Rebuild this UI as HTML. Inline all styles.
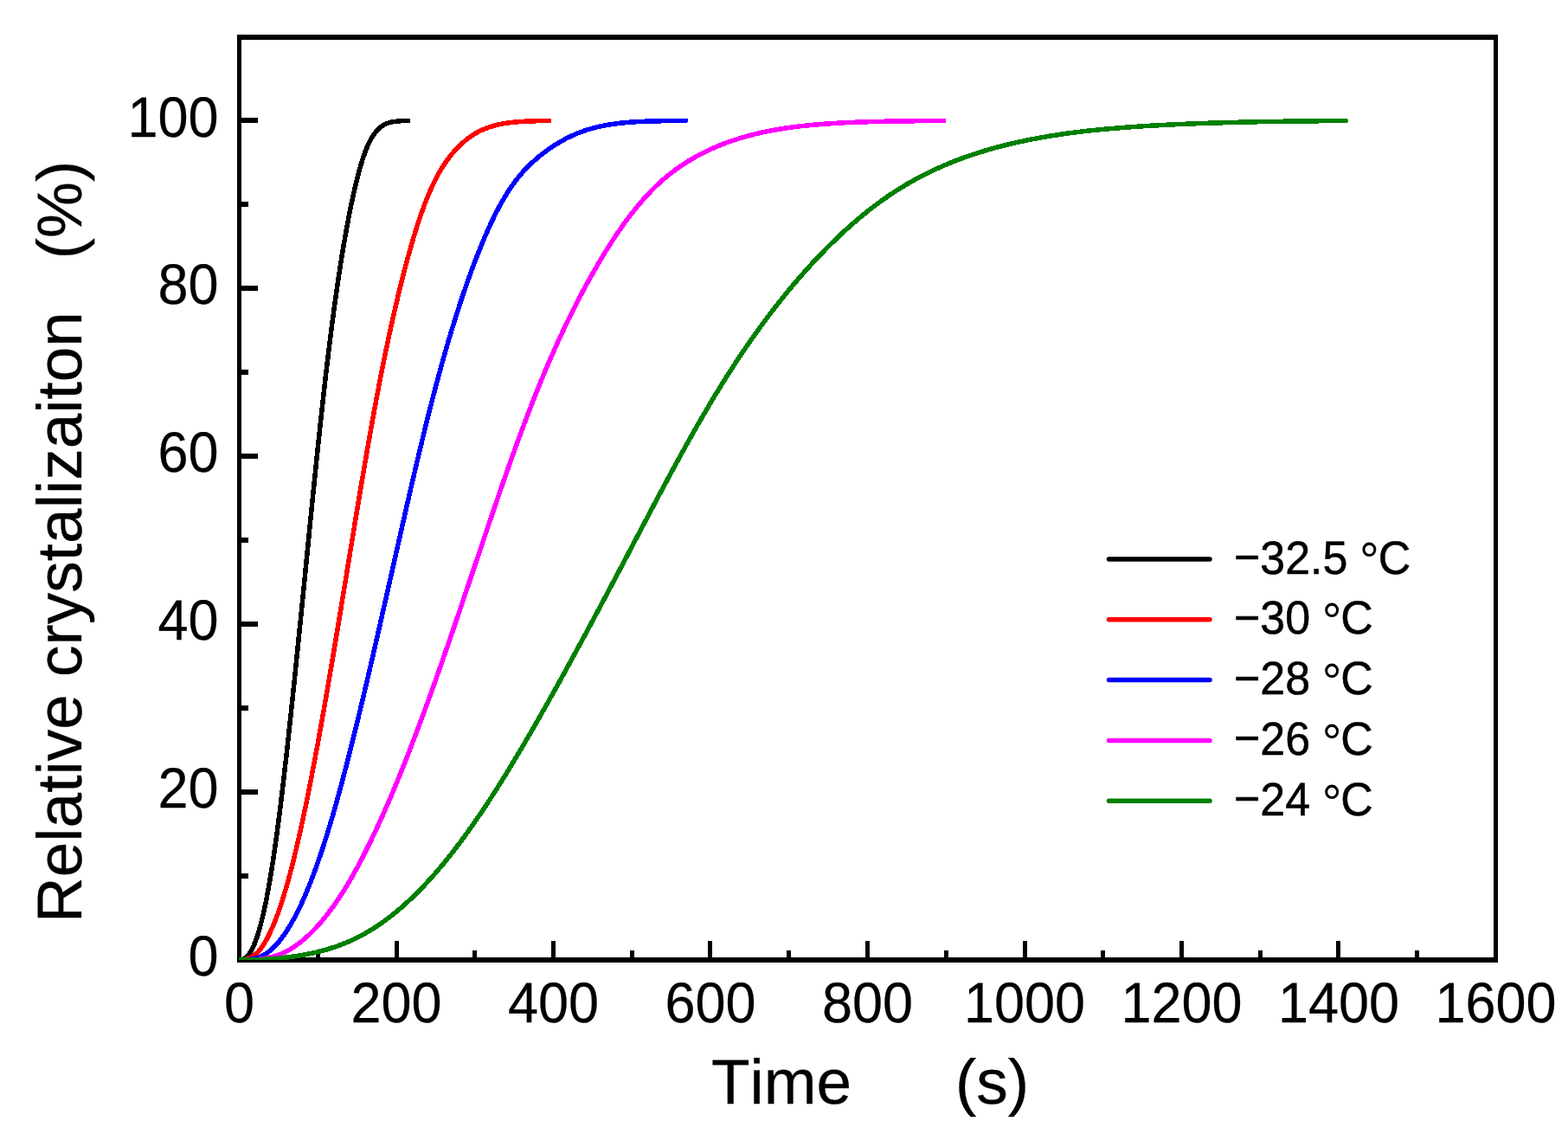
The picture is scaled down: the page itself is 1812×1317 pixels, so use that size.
<!DOCTYPE html>
<html><head><meta charset="utf-8"><title>Relative crystallization vs time</title>
<style>
html,body{margin:0;padding:0;background:#fff;}
body{width:1812px;height:1317px;overflow:hidden;}
svg{display:block;}
text{font-family:"Liberation Sans",sans-serif;fill:#000;white-space:pre;font-kerning:none;font-variant-ligatures:none;text-rendering:geometricPrecision;}
</style></head><body>
<svg width="1812" height="1317" viewBox="0 0 1812 1317">
<rect x="0" y="0" width="1812" height="1317" fill="#ffffff"/>

<g shape-rendering="crispEdges" fill="#000">
<rect x="274" y="40" width="5" height="1072"/>
<rect x="1726" y="40" width="5" height="1072"/>
<rect x="274" y="40" width="1457" height="6"/>
<rect x="274" y="1106" width="1457" height="6"/>
<rect x="365" y="1098" width="5" height="8"/>
<rect x="456" y="1087" width="5" height="19"/>
<rect x="546" y="1098" width="5" height="8"/>
<rect x="637" y="1087" width="5" height="19"/>
<rect x="728" y="1098" width="5" height="8"/>
<rect x="818" y="1087" width="5" height="19"/>
<rect x="909" y="1098" width="5" height="8"/>
<rect x="1000" y="1087" width="5" height="19"/>
<rect x="1091" y="1098" width="5" height="8"/>
<rect x="1182" y="1087" width="5" height="19"/>
<rect x="1272" y="1098" width="5" height="8"/>
<rect x="1363" y="1087" width="5" height="19"/>
<rect x="1454" y="1098" width="5" height="8"/>
<rect x="1544" y="1087" width="5" height="19"/>
<rect x="1635" y="1098" width="5" height="8"/>
<rect x="279" y="1009" width="8" height="6"/>
<rect x="279" y="912" width="19" height="6"/>
<rect x="279" y="815" width="8" height="6"/>
<rect x="279" y="718" width="19" height="6"/>
<rect x="279" y="621" width="8" height="6"/>
<rect x="279" y="524" width="19" height="6"/>
<rect x="279" y="427" width="8" height="6"/>
<rect x="279" y="330" width="19" height="6"/>
<rect x="279" y="233" width="8" height="6"/>
<rect x="279" y="136" width="19" height="6"/>
</g>
<defs><clipPath id="pc"><rect x="276" y="43" width="1453" height="1066"/></clipPath></defs>
<g fill="none" stroke-width="5.5" stroke-linecap="round" stroke-linejoin="round" clip-path="url(#pc)" shape-rendering="crispEdges">
<path stroke="#000000" d="M276.50,1109.00C285.00,1108.95 290.07,1099.94 293.39,1092.12C296.71,1084.29 299.15,1076.12 301.33,1067.90C303.50,1059.69 305.36,1051.39 307.05,1043.06C308.75,1034.73 310.27,1026.37 311.70,1017.99C313.14,1009.61 314.47,1001.21 315.73,992.81C317.00,984.40 318.20,975.99 319.36,967.57C320.51,959.14 321.62,950.72 322.70,942.28C323.78,933.85 324.82,925.42 325.83,916.98C326.85,908.54 327.84,900.10 328.81,891.65C329.79,883.21 330.74,874.76 331.67,866.31C332.61,857.86 333.53,849.41 334.44,840.96C335.36,832.51 336.25,824.06 337.15,815.61C338.04,807.15 338.92,798.70 339.80,790.24C340.67,781.79 341.54,773.33 342.41,764.88C343.27,756.42 344.13,747.96 344.98,739.51C345.84,731.05 346.69,722.59 347.53,714.13C348.38,705.68 349.22,697.22 350.06,688.76C350.91,680.30 351.75,671.84 352.59,663.38C353.43,654.93 354.27,646.47 355.11,638.01C355.94,629.55 356.78,621.09 357.63,612.63C358.47,604.17 359.31,595.72 360.16,587.26C361.01,578.80 361.86,570.34 362.72,561.89C363.57,553.43 364.44,544.97 365.31,536.52C366.18,528.06 367.06,519.61 367.95,511.15C368.84,502.70 369.74,494.25 370.65,485.80C371.56,477.35 372.49,468.90 373.43,460.45C374.37,452.00 375.33,443.56 376.31,435.11C377.29,426.67 378.28,418.23 379.31,409.79C380.33,401.35 381.38,392.91 382.45,384.48C383.52,376.05 384.62,367.62 385.76,359.20C386.89,350.77 388.06,342.35 389.27,333.94C390.48,325.53 391.73,317.12 393.03,308.72C394.32,300.32 395.68,291.92 397.09,283.54C398.51,275.16 400.00,266.79 401.56,258.44C403.13,250.08 404.78,241.74 406.54,233.43C408.30,225.11 410.17,216.82 412.21,208.57C414.26,200.32 416.47,192.10 419.08,184.02C421.70,175.93 424.68,167.91 428.82,160.49C432.96,153.07 438.65,146.08 446.48,142.78C454.32,139.48 463.11,139.60 471.61,139.50"/>
<path stroke="#ff0000" d="M276.50,1109.00C284.85,1108.99 293.08,1105.65 298.61,1099.39C304.13,1093.13 308.14,1085.68 311.75,1078.15C315.37,1070.61 318.46,1062.84 321.28,1054.98C324.11,1047.12 326.66,1039.16 329.05,1031.16C331.44,1023.15 333.66,1015.10 335.78,1007.02C337.89,998.94 339.90,990.83 341.83,982.70C343.77,974.58 345.62,966.43 347.43,958.28C349.23,950.12 350.97,941.95 352.68,933.77C354.38,925.59 356.04,917.41 357.66,909.21C359.29,901.02 360.88,892.82 362.44,884.61C364.00,876.41 365.53,868.20 367.04,859.98C368.55,851.77 370.04,843.55 371.51,835.32C372.98,827.10 374.43,818.87 375.86,810.64C377.30,802.42 378.72,794.18 380.13,785.95C381.53,777.72 382.93,769.48 384.32,761.24C385.70,753.01 387.08,744.77 388.45,736.53C389.82,728.29 391.19,720.05 392.55,711.80C393.90,703.56 395.26,695.32 396.61,687.08C397.96,678.83 399.31,670.59 400.66,662.35C402.01,654.10 403.35,645.86 404.70,637.62C406.05,629.37 407.40,621.13 408.76,612.89C410.11,604.64 411.47,596.40 412.84,588.16C414.20,579.92 415.57,571.68 416.96,563.44C418.34,555.20 419.73,546.97 421.14,538.73C422.55,530.50 423.97,522.27 425.41,514.04C426.84,505.81 428.30,497.59 429.78,489.37C431.26,481.14 432.76,472.93 434.28,464.71C435.81,456.50 437.36,448.29 438.95,440.09C440.54,431.89 442.16,423.70 443.82,415.51C445.48,407.32 447.18,399.15 448.92,390.98C450.66,382.81 452.45,374.65 454.28,366.50C456.12,358.35 458.01,350.21 459.95,342.09C461.90,333.96 463.90,325.85 465.98,317.76C468.05,309.67 470.20,301.60 472.43,293.55C474.67,285.50 476.98,277.48 479.43,269.49C481.88,261.50 484.45,253.55 487.22,245.67C489.99,237.79 492.96,229.98 496.24,222.30C499.53,214.62 503.14,207.07 507.25,199.80C511.36,192.53 515.98,185.53 521.22,179.03C526.46,172.52 532.32,166.49 538.87,161.31C545.42,156.13 552.69,151.85 560.43,148.72C568.18,145.59 576.35,143.59 584.60,142.31C592.86,141.03 601.20,140.43 609.55,140.07C617.89,139.70 626.25,139.58 634.60,139.50"/>
<path stroke="#0000ff" d="M276.50,1109.00C284.98,1109.00 293.69,1108.57 301.44,1105.12C309.19,1101.67 315.61,1095.78 321.13,1089.34C326.65,1082.90 331.38,1075.82 335.68,1068.51C339.99,1061.20 343.86,1053.64 347.45,1045.96C351.05,1038.28 354.38,1030.47 357.52,1022.59C360.66,1014.71 363.62,1006.76 366.45,998.77C369.28,990.77 371.97,982.73 374.57,974.65C377.17,966.58 379.66,958.47 382.08,950.34C384.50,942.21 386.84,934.06 389.13,925.89C391.42,917.72 393.64,909.54 395.82,901.34C398.01,893.15 400.14,884.94 402.25,876.72C404.35,868.50 406.41,860.28 408.45,852.04C410.49,843.81 412.50,835.57 414.49,827.33C416.48,819.08 418.45,810.83 420.41,802.58C422.36,794.32 424.30,786.06 426.22,777.80C428.15,769.54 430.06,761.28 431.96,753.01C433.86,744.75 435.75,736.48 437.63,728.21C439.52,719.94 441.39,711.67 443.26,703.39C445.13,695.12 447.00,686.85 448.86,678.57C450.73,670.30 452.59,662.02 454.45,653.75C456.31,645.47 458.18,637.20 460.04,628.92C461.90,620.65 463.77,612.37 465.65,604.10C467.52,595.83 469.40,587.56 471.29,579.29C473.18,571.02 475.09,562.76 477.01,554.50C478.93,546.23 480.86,537.98 482.82,529.72C484.78,521.47 486.75,513.22 488.76,504.98C490.76,496.74 492.79,488.50 494.86,480.28C496.92,472.05 499.02,463.83 501.16,455.62C503.30,447.41 505.48,439.22 507.71,431.03C509.94,422.85 512.22,414.68 514.56,406.53C516.89,398.37 519.29,390.24 521.75,382.12C524.20,374.00 526.73,365.90 529.33,357.83C531.93,349.76 534.60,341.71 537.36,333.69C540.12,325.67 542.98,317.68 545.93,309.73C548.89,301.78 551.95,293.87 555.15,286.01C558.34,278.15 561.66,270.35 565.18,262.63C568.69,254.91 572.40,247.27 576.39,239.79C580.39,232.31 584.68,224.98 589.39,217.93C594.10,210.87 599.26,204.11 604.96,197.83C610.65,191.54 616.86,185.72 623.44,180.37C630.02,175.02 636.97,170.12 644.20,165.70C651.44,161.28 659.01,157.38 666.85,154.16C674.70,150.94 682.82,148.40 691.08,146.47C699.34,144.54 707.73,143.22 716.16,142.28C724.59,141.34 733.06,140.77 741.53,140.40C750.01,140.02 758.49,139.83 766.97,139.71C775.45,139.59 783.93,139.53 792.41,139.50"/>
<path stroke="#ff00ff" d="M276.50,1109.00C284.98,1109.00 293.48,1108.99 301.90,1107.99C310.31,1106.98 318.62,1104.87 326.36,1101.41C334.10,1097.95 341.25,1093.27 347.88,1087.98C354.50,1082.69 360.63,1076.80 366.36,1070.55C372.10,1064.31 377.44,1057.71 382.47,1050.89C387.50,1044.06 392.23,1037.02 396.74,1029.84C401.25,1022.66 405.54,1015.35 409.66,1007.94C413.79,1000.53 417.75,993.04 421.58,985.48C425.42,977.92 429.13,970.29 432.75,962.63C436.37,954.96 439.89,947.25 443.33,939.50C446.77,931.75 450.14,923.97 453.44,916.16C456.74,908.35 459.97,900.52 463.15,892.66C466.33,884.80 469.45,876.92 472.53,869.02C475.61,861.12 478.64,853.20 481.63,845.27C484.62,837.34 487.58,829.39 490.50,821.43C493.42,813.48 496.31,805.51 499.17,797.53C502.03,789.55 504.86,781.56 507.68,773.56C510.49,765.56 513.28,757.56 516.06,749.55C518.83,741.54 521.59,733.52 524.33,725.50C527.08,717.48 529.81,709.45 532.54,701.43C535.26,693.40 537.98,685.37 540.69,677.34C543.40,669.30 546.11,661.27 548.82,653.24C551.52,645.20 554.23,637.17 556.94,629.14C559.65,621.10 562.36,613.07 565.08,605.04C567.80,597.01 570.53,588.99 573.28,580.97C576.03,572.95 578.79,564.93 581.57,556.93C584.36,548.92 587.17,540.92 590.01,532.93C592.85,524.95 595.72,516.97 598.63,509.01C601.54,501.04 604.49,493.10 607.48,485.17C610.48,477.23 613.52,469.32 616.62,461.43C619.73,453.54 622.89,445.68 626.12,437.84C629.35,430.00 632.66,422.19 636.04,414.42C639.42,406.65 642.88,398.91 646.43,391.21C649.98,383.51 653.61,375.85 657.33,368.23C661.05,360.61 664.86,353.04 668.77,345.52C672.68,338.00 676.69,330.52 680.80,323.11C684.92,315.70 689.14,308.35 693.48,301.07C697.82,293.79 702.28,286.58 706.89,279.46C711.49,272.34 716.24,265.31 721.18,258.43C726.13,251.54 731.27,244.79 736.66,238.26C742.06,231.72 747.71,225.39 753.67,219.36C759.63,213.32 765.90,207.60 772.49,202.27C779.08,196.94 786.00,192.01 793.17,187.49C800.34,182.97 807.77,178.86 815.39,175.15C823.02,171.44 830.83,168.12 838.77,165.16C846.72,162.20 854.80,159.61 862.97,157.35C871.14,155.09 879.40,153.17 887.71,151.52C896.03,149.87 904.40,148.49 912.80,147.33C921.19,146.17 929.62,145.22 938.06,144.43C946.50,143.64 954.96,143.01 963.42,142.48C971.88,141.96 980.35,141.55 988.82,141.21C997.29,140.88 1005.76,140.62 1014.24,140.42C1022.71,140.21 1031.19,140.06 1039.66,139.94C1048.14,139.82 1056.62,139.73 1065.10,139.66C1073.57,139.59 1082.05,139.54 1090.53,139.50"/>
<path stroke="#008000" d="M276.50,1109.00C284.95,1109.00 293.40,1108.88 301.84,1108.50C310.29,1108.12 318.72,1107.49 327.12,1106.57C335.52,1105.66 343.89,1104.46 352.20,1102.92C360.51,1101.38 368.76,1099.50 376.88,1097.17C385.00,1094.84 393.00,1092.07 400.79,1088.79C408.58,1085.51 416.15,1081.72 423.48,1077.51C430.80,1073.29 437.87,1068.64 444.70,1063.66C451.52,1058.68 458.11,1053.37 464.47,1047.81C470.84,1042.25 476.99,1036.45 482.95,1030.46C488.91,1024.46 494.68,1018.29 500.28,1011.96C505.89,1005.64 511.34,999.17 516.64,992.60C521.95,986.02 527.12,979.33 532.17,972.56C537.23,965.79 542.17,958.93 547.01,952.00C551.85,945.08 556.60,938.09 561.26,931.04C565.93,923.99 570.51,916.90 575.03,909.76C579.55,902.62 584.01,895.44 588.41,888.22C592.81,881.01 597.16,873.76 601.47,866.49C605.77,859.22 610.03,851.92 614.26,844.60C618.49,837.29 622.69,829.95 626.85,822.60C631.02,815.25 635.17,807.88 639.29,800.51C643.41,793.13 647.51,785.74 651.59,778.34C655.67,770.94 659.73,763.53 663.77,756.11C667.82,748.69 671.85,741.26 675.86,733.82C679.87,726.39 683.87,718.94 687.86,711.49C691.85,704.04 695.83,696.59 699.79,689.12C703.76,681.66 707.72,674.20 711.67,666.73C715.62,659.26 719.57,651.78 723.51,644.31C727.45,636.83 731.38,629.35 735.32,621.87C739.25,614.40 743.18,606.92 747.13,599.44C751.07,591.97 755.02,584.49 758.98,577.03C762.94,569.57 766.92,562.11 770.92,554.67C774.93,547.23 778.95,539.80 783.01,532.38C787.07,524.97 791.15,517.57 795.28,510.20C799.41,502.83 803.58,495.48 807.80,488.15C812.02,480.83 816.28,473.54 820.61,466.28C824.94,459.02 829.32,451.80 833.78,444.62C838.24,437.44 842.76,430.30 847.37,423.22C851.98,416.13 856.66,409.10 861.43,402.12C866.21,395.15 871.06,388.23 876.00,381.38C880.95,374.52 885.98,367.74 891.11,361.02C896.24,354.30 901.46,347.66 906.79,341.10C912.11,334.53 917.53,328.05 923.06,321.66C928.59,315.27 934.23,308.97 939.97,302.77C945.72,296.58 951.57,290.48 957.55,284.50C963.52,278.53 969.62,272.67 975.84,266.96C982.07,261.24 988.43,255.68 994.94,250.29C1001.45,244.90 1008.10,239.68 1014.91,234.68C1021.72,229.67 1028.68,224.88 1035.80,220.31C1042.91,215.75 1050.18,211.43 1057.59,207.36C1064.99,203.30 1072.54,199.49 1080.21,195.93C1087.87,192.37 1095.65,189.07 1103.53,186.00C1111.40,182.93 1119.37,180.10 1127.41,177.49C1135.44,174.88 1143.55,172.48 1151.71,170.28C1159.87,168.08 1168.08,166.08 1176.33,164.24C1184.58,162.41 1192.87,160.75 1201.18,159.24C1209.50,157.74 1217.84,156.38 1226.20,155.16C1234.56,153.93 1242.94,152.83 1251.33,151.85C1259.73,150.86 1268.13,149.98 1276.55,149.19C1284.96,148.41 1293.38,147.71 1301.81,147.08C1310.24,146.45 1318.67,145.89 1327.10,145.38C1335.54,144.87 1343.98,144.42 1352.42,144.01C1360.86,143.61 1369.30,143.24 1377.75,142.91C1386.19,142.58 1394.64,142.29 1403.08,142.02C1411.53,141.76 1419.98,141.52 1428.42,141.31C1436.87,141.10 1445.32,140.91 1453.77,140.75C1462.22,140.58 1470.67,140.44 1479.12,140.31C1487.57,140.18 1496.02,140.06 1504.47,139.96C1512.92,139.86 1521.37,139.78 1529.82,139.70C1538.27,139.62 1546.72,139.56 1555.17,139.50"/>
</g>
<text transform="translate(276.50,1181.00) scale(1.0000,1.0450)" x="0.00" y="0" font-size="63" text-anchor="middle" stroke="#000" stroke-width="0.25" stroke-linejoin="round" xml:space="preserve">0</text>
<text transform="translate(458.00,1181.00) scale(1.0000,1.0450)" x="0.00" y="0" font-size="63" text-anchor="middle" stroke="#000" stroke-width="0.25" stroke-linejoin="round" xml:space="preserve">200</text>
<text transform="translate(639.50,1181.00) scale(1.0000,1.0450)" x="0.00" y="0" font-size="63" text-anchor="middle" stroke="#000" stroke-width="0.25" stroke-linejoin="round" xml:space="preserve">400</text>
<text transform="translate(821.00,1181.00) scale(1.0000,1.0450)" x="0.00" y="0" font-size="63" text-anchor="middle" stroke="#000" stroke-width="0.25" stroke-linejoin="round" xml:space="preserve">600</text>
<text transform="translate(1002.50,1181.00) scale(1.0000,1.0450)" x="0.00" y="0" font-size="63" text-anchor="middle" stroke="#000" stroke-width="0.25" stroke-linejoin="round" xml:space="preserve">800</text>
<text transform="translate(1184.00,1181.00) scale(1.0000,1.0450)" x="0.00" y="0" font-size="63" text-anchor="middle" stroke="#000" stroke-width="0.25" stroke-linejoin="round" xml:space="preserve">1000</text>
<text transform="translate(1365.50,1181.00) scale(1.0000,1.0450)" x="0.00" y="0" font-size="63" text-anchor="middle" stroke="#000" stroke-width="0.25" stroke-linejoin="round" xml:space="preserve">1200</text>
<text transform="translate(1547.00,1181.00) scale(1.0000,1.0450)" x="0.00" y="0" font-size="63" text-anchor="middle" stroke="#000" stroke-width="0.25" stroke-linejoin="round" xml:space="preserve">1400</text>
<text transform="translate(1728.50,1181.00) scale(1.0000,1.0450)" x="0.00" y="0" font-size="63" text-anchor="middle" stroke="#000" stroke-width="0.25" stroke-linejoin="round" xml:space="preserve">1600</text>
<text transform="translate(252.50,1127.10) scale(1.0000,1.0450)" x="0.00" y="0" font-size="63" text-anchor="end" stroke="#000" stroke-width="0.25" stroke-linejoin="round" xml:space="preserve">0</text>
<text transform="translate(252.50,933.19) scale(1.0000,1.0450)" x="0.00" y="0" font-size="63" text-anchor="end" stroke="#000" stroke-width="0.25" stroke-linejoin="round" xml:space="preserve">20</text>
<text transform="translate(252.50,739.28) scale(1.0000,1.0450)" x="0.00" y="0" font-size="63" text-anchor="end" stroke="#000" stroke-width="0.25" stroke-linejoin="round" xml:space="preserve">40</text>
<text transform="translate(252.50,545.37) scale(1.0000,1.0450)" x="0.00" y="0" font-size="63" text-anchor="end" stroke="#000" stroke-width="0.25" stroke-linejoin="round" xml:space="preserve">60</text>
<text transform="translate(252.50,351.46) scale(1.0000,1.0450)" x="0.00" y="0" font-size="63" text-anchor="end" stroke="#000" stroke-width="0.25" stroke-linejoin="round" xml:space="preserve">80</text>
<text transform="translate(252.50,157.55) scale(1.0000,1.0450)" x="0.00" y="0" font-size="63" text-anchor="end" stroke="#000" stroke-width="0.25" stroke-linejoin="round" xml:space="preserve">100</text>
<text transform="translate(821.90,1275.10) scale(1.0000,1.0000)" x="0.00" y="0" font-size="73" text-anchor="start" stroke="#000" stroke-width="0.3" stroke-linejoin="round" xml:space="preserve">Time<tspan letter-spacing="-0.3">      </tspan>(s)</text>
<text transform="translate(94.00,1066.00) rotate(-90) scale(1.0000,1.0000)" x="0.00" y="0" font-size="73" text-anchor="start" stroke="#000" stroke-width="0.3" stroke-linejoin="round" xml:space="preserve">Relative crystalizaiton   (%)</text>
<line x1="1281.5" y1="646.0" x2="1398" y2="646.0" stroke="#000000" stroke-width="5.5" stroke-linecap="round"/>
<text transform="translate(1425.90,662.50) scale(1.0000,1.0400)" x="0.00" y="0" font-size="52" text-anchor="start" stroke="#000" stroke-width="0.5" stroke-linejoin="round" xml:space="preserve"><tspan dy="-0.5">−</tspan><tspan dy="0.5">32.5 </tspan><tspan dy="5.6" dx="-0.8" font-size="57" stroke="none">°</tspan><tspan dy="-5.6" dx="-1.2">C</tspan></text>
<line x1="1281.5" y1="715.8" x2="1398" y2="715.8" stroke="#ff0000" stroke-width="5.5" stroke-linecap="round"/>
<text transform="translate(1425.90,732.30) scale(1.0000,1.0400)" x="0.00" y="0" font-size="52" text-anchor="start" stroke="#000" stroke-width="0.5" stroke-linejoin="round" xml:space="preserve"><tspan dy="-0.5">−</tspan><tspan dy="0.5">30 </tspan><tspan dy="5.6" dx="-0.8" font-size="57" stroke="none">°</tspan><tspan dy="-5.6" dx="-1.2">C</tspan></text>
<line x1="1281.5" y1="785.6" x2="1398" y2="785.6" stroke="#0000ff" stroke-width="5.5" stroke-linecap="round"/>
<text transform="translate(1425.90,802.10) scale(1.0000,1.0400)" x="0.00" y="0" font-size="52" text-anchor="start" stroke="#000" stroke-width="0.5" stroke-linejoin="round" xml:space="preserve"><tspan dy="-0.5">−</tspan><tspan dy="0.5">28 </tspan><tspan dy="5.6" dx="-0.8" font-size="57" stroke="none">°</tspan><tspan dy="-5.6" dx="-1.2">C</tspan></text>
<line x1="1281.5" y1="855.4" x2="1398" y2="855.4" stroke="#ff00ff" stroke-width="5.5" stroke-linecap="round"/>
<text transform="translate(1425.90,871.90) scale(1.0000,1.0400)" x="0.00" y="0" font-size="52" text-anchor="start" stroke="#000" stroke-width="0.5" stroke-linejoin="round" xml:space="preserve"><tspan dy="-0.5">−</tspan><tspan dy="0.5">26 </tspan><tspan dy="5.6" dx="-0.8" font-size="57" stroke="none">°</tspan><tspan dy="-5.6" dx="-1.2">C</tspan></text>
<line x1="1281.5" y1="925.2" x2="1398" y2="925.2" stroke="#008000" stroke-width="5.5" stroke-linecap="round"/>
<text transform="translate(1425.90,941.70) scale(1.0000,1.0400)" x="0.00" y="0" font-size="52" text-anchor="start" stroke="#000" stroke-width="0.5" stroke-linejoin="round" xml:space="preserve"><tspan dy="-0.5">−</tspan><tspan dy="0.5">24 </tspan><tspan dy="5.6" dx="-0.8" font-size="57" stroke="none">°</tspan><tspan dy="-5.6" dx="-1.2">C</tspan></text>
</svg></body></html>
